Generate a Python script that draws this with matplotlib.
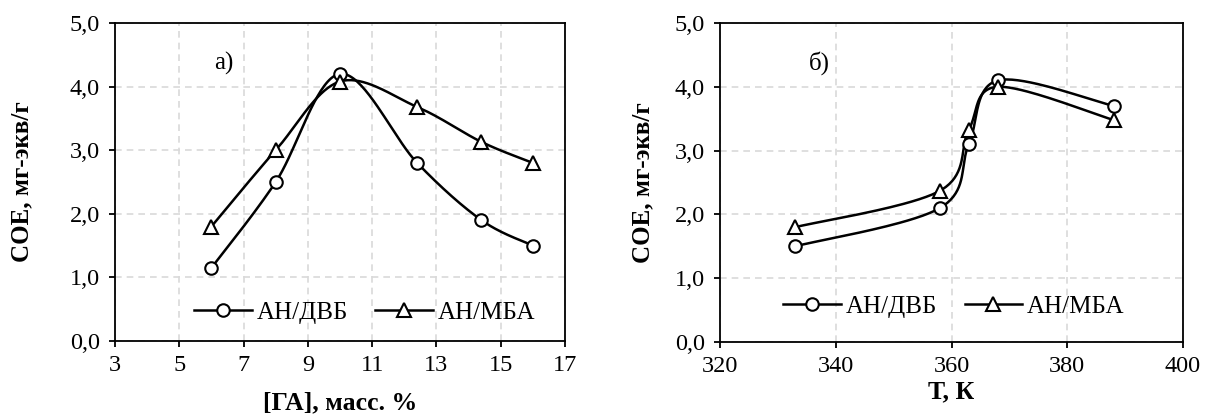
import numpy as np
import matplotlib
matplotlib.use("Agg")
from matplotlib import pyplot as plt
from matplotlib.lines import Line2D

plt.rcParams['font.family'] = ['Liberation Serif', 'DejaVu Serif']

# panel a) : [ГА], масс. %
ga = [6, 8, 10, 12.4, 14.4, 16]
dvb_a = [1.15, 2.5, 4.2, 2.8, 1.9, 1.5]
mba_a = [1.8, 3.0, 4.08, 3.68, 3.13, 2.8]

# panel б) : T, K
temp = [333, 358, 363, 368, 388]
dvb_b = [1.5, 2.1, 3.1, 4.1, 3.7]
mba_b = [1.8, 2.37, 3.33, 4.0, 3.48]

names = ["АН/ДВБ", "АН/МБА"]


def fmt(v, pos):
    return f"{v:.1f}".replace(".", ",")


def smooth(ax, x, y, t=1/6, n=40):
    # excel-like smoothed line, built in pixel space
    pts = ax.transData.transform(np.column_stack([x, y]))
    p = np.vstack([pts[0], pts, pts[-1]])
    out = []
    for i in range(1, len(p) - 2):
        p0, p1, p2, p3 = p[i - 1], p[i], p[i + 1], p[i + 2]
        c1 = p1 + (p2 - p0) * t
        c2 = p2 - (p3 - p1) * t
        s = np.linspace(0, 1, n)[:, None]
        seg = (1-s)**3*p1 + 3*(1-s)**2*s*c1 + 3*(1-s)*s**2*c2 + s**3*p2
        out.append(seg)
    out = np.vstack(out)
    d = ax.transData.inverted().transform(out)
    return d[:, 0], d[:, 1]


fig = plt.figure(figsize=(12.05, 4.17), dpi=100)
W, H = 1205, 417
ax1 = fig.add_axes([115/W, (H-341)/H, 450/W, 318/H])
ax2 = fig.add_axes([720/W, (H-342)/H, 463/W, 319/H])

panels = [
    (ax1, ga, dvb_a, mba_a, (3, 17), np.arange(3, 18, 2), "[ГА], масс. %", "а)", (6.4, 4.37),
     (0.555, 0.09), (-0.207, 0.5), (0.5, -0.195)),
    (ax2, temp, dvb_b, mba_b, (320, 400), np.arange(320, 401, 20), "Т, К", "б)", (337.2, 4.37),
     (0.505, 0.11), (-0.166, 0.5), (0.5, -0.157)),
]

for ax, x, y1, y2, xl, xt, xlab, tag, tpos, lpos, ylc, xlc in panels:
    ax.set_xlim(*xl)
    ax.set_ylim(0, 5)
    ax.set_xticks(xt)
    ax.set_yticks(np.arange(0, 5.1, 1))
    ax.yaxis.set_major_formatter(plt.FuncFormatter(fmt))
    ax.grid(True, color="#d9d9d9", linestyle=(0, (4, 3)), linewidth=1.2)
    ax.set_axisbelow(True)
    for sp in ax.spines.values():
        sp.set_linewidth(1.3)
        sp.set_color("black")
    ax.tick_params(direction="out", length=4, width=1.3, labelsize=17.5)
    ax.tick_params(axis="x", pad=6)
    ax.tick_params(axis="y", pad=7)

    sx, sy = smooth(ax, x, y1)
    ax.plot(sx, sy, color="black", lw=1.8, zorder=3)
    sx, sy = smooth(ax, x, y2)
    ax.plot(sx, sy, color="black", lw=1.8, zorder=3)
    ax.plot(x, y1, "o", ms=9, mfc="white", mec="black", mew=1.5, zorder=4)
    ax.plot(x, y2, "^", ms=10, mfc="white", mec="black", mew=1.5, zorder=4)

    ax.text(tpos[0], tpos[1], tag, fontsize=18, ha="center", va="center")
    ax.set_ylabel("СОЕ, мг-экв/г", fontsize=18, fontweight="bold")
    ax.set_xlabel(xlab, fontsize=18.5, fontweight="bold")
    ax.yaxis.set_label_coords(*ylc)
    ax.xaxis.set_label_coords(*xlc)
    ax.xaxis.label.set_va("center")
    ax.yaxis.label.set_va("center")

    handles = [
        Line2D([], [], color="black", lw=1.8, marker="o", ms=9, mfc="white", mec="black", mew=1.5),
        Line2D([], [], color="black", lw=1.8, marker="^", ms=10, mfc="white", mec="black", mew=1.5),
    ]
    ax.legend(handles, names, ncol=2, frameon=False, loc="center",
              bbox_to_anchor=lpos, fontsize=18, handlelength=2.3,
              handletextpad=0.2, columnspacing=1.1)

fig.savefig("out.png", dpi=100)
